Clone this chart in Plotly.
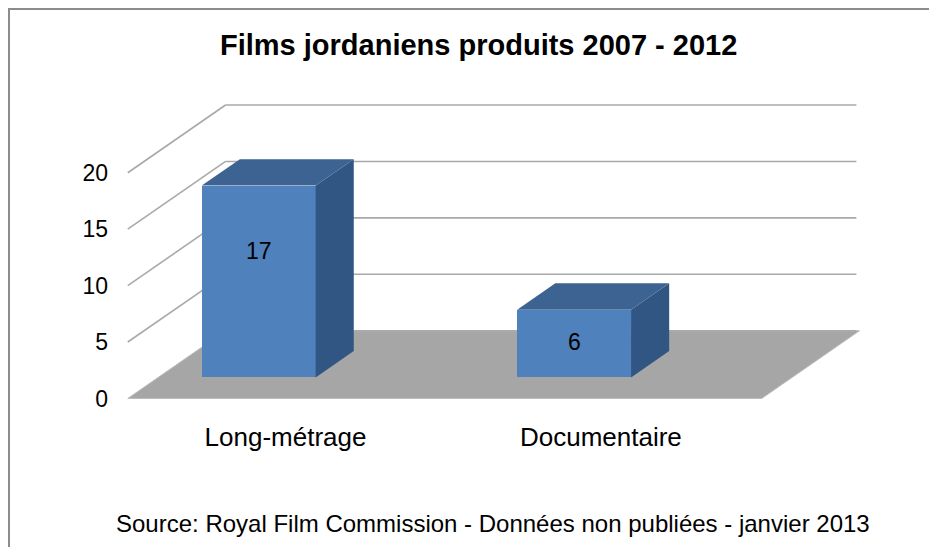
import plotly.graph_objects as go

# ---- data ----
categories = ["Long-métrage", "Documentaire"]
values = [17, 6]
y_ticks = [0, 5, 10, 15, 20]
title_text = "<b>Films jordaniens produits 2007 - 2012</b>"
source_text = "Source: Royal Film Commission - Données non publiées - janvier 2013"

# ---- figure geometry / style ----
OFF = 8                      # page body margin of the html page
W, H = 937 - OFF, 547 - OFF
ML, MT = 112 - OFF, 96 - OFF
PW, PH = 757, 316
MR, MB = W - ML - PW, H - MT - PH
XR = [-0.05, 2.35]
YR = [-1.2, 26.8]
DX, DY = 0.31, 6.0          # full floor depth (x in category units, y in value units)
FLOOR_W = 2.01              # floor width in category units
BAR_C = 0.319               # bar centre offset (depth 0) inside a category
BAR_W = 0.361
FB, BD = 0.31, 0.39         # bar front depth fraction, bar depth fraction
FRONT = "#4F81BD"
TOP = "#3C6391"
SIDE = "#325683"
FLOOR = "#A6A6A6"
GRID = "#A9A9A9"
FONT = "Liberation Sans, Arial, sans-serif"


def px_to_paper_x(px):
    return (px - OFF - ML) / PW


def px_to_paper_y(py):
    return (H - MB - (py - OFF)) / PH


fig = go.Figure()
shapes = []

# floor
shapes.append(dict(
    type="path", layer="below", line=dict(color="#BDBDBD", width=1), fillcolor=FLOOR,
    xref="x", yref="y",
    path=f"M 0,0 L {FLOOR_W},0 L {FLOOR_W + DX},{DY} L {DX},{DY} Z"))

# gridlines (side wall diagonals + back wall horizontals)
for t in y_ticks:
    if t > 0:
        shapes.append(dict(type="line", layer="below", xref="x", yref="y",
                           x0=0, y0=t, x1=DX, y1=t + DY,
                           line=dict(color=GRID, width=1.6)))
    shapes.append(dict(type="line", layer="below", xref="x", yref="y",
                       x0=DX, y0=t + DY, x1=FLOOR_W + DX - 0.01, y1=t + DY,
                       line=dict(color=GRID, width=1.6)))

# bars: front faces via go.Bar
xs_front = [i + BAR_C + FB * DX for i in range(len(values))]
base = FB * DY
fig.add_trace(go.Bar(
    x=xs_front, y=values, base=[base] * len(values), width=BAR_W,
    marker=dict(color=FRONT, line=dict(width=0)),
    hoverinfo="skip", showlegend=False))

bdx, bdy = BD * DX, BD * DY
for xc, v in zip(xs_front, values):
    xl, xr = xc - BAR_W / 2, xc + BAR_W / 2
    yb, yt = base, base + v
    # side face
    fig.add_trace(go.Scatter(
        x=[xr, xr, xr + bdx, xr + bdx, xr], y=[yb, yt, yt + bdy, yb + bdy, yb],
        fill="toself", fillcolor=SIDE, mode="lines", line=dict(width=0, color=SIDE),
        hoverinfo="skip", showlegend=False))
    # top face
    fig.add_trace(go.Scatter(
        x=[xl, xr, xr + bdx, xl + bdx, xl], y=[yt, yt, yt + bdy, yt + bdy, yt],
        fill="toself", fillcolor=TOP, mode="lines", line=dict(width=0, color=TOP),
        hoverinfo="skip", showlegend=False))

# data labels
annotations = []
for xc, v in zip(xs_front, values):
    annotations.append(dict(
        x=xc, y=0.73 * v + 0.65, xref="x", yref="y", text=str(v), showarrow=False,
        font=dict(family=FONT, size=23, color="black")))

# title and source
annotations.append(dict(
    x=px_to_paper_x(478), y=px_to_paper_y(45), xref="paper", yref="paper",
    text=title_text, showarrow=False, xanchor="center", yanchor="middle",
    font=dict(family=FONT, size=29, color="black")))
annotations.append(dict(
    x=px_to_paper_x(493), y=px_to_paper_y(523), xref="paper", yref="paper",
    text=source_text, showarrow=False, xanchor="center", yanchor="middle",
    font=dict(family=FONT, size=24, color="black")))

# outer chart border
shapes.append(dict(type="rect", xref="paper", yref="paper",
                   x0=px_to_paper_x(OFF + 1), x1=px_to_paper_x(980),
                   y0=px_to_paper_y(600), y1=px_to_paper_y(OFF + 1),
                   line=dict(color="#8C8C8C", width=2), fillcolor="rgba(0,0,0,0)"))

fig.update_layout(
    width=W, height=H,
    margin=dict(l=ML, r=MR, t=MT, b=MB, autoexpand=False),
    paper_bgcolor="white", plot_bgcolor="white",
    shapes=shapes, annotations=annotations,
    bargap=0,
    xaxis=dict(range=XR, tickvals=[i + 0.5 for i in range(len(categories))],
               ticktext=categories, showgrid=False, zeroline=False, showline=False,
               ticks="", ticklabelstandoff=7,
               tickfont=dict(family=FONT, size=26, color="black"), fixedrange=True),
    yaxis=dict(range=YR, tickvals=y_ticks, showgrid=False, zeroline=False,
               showline=False, ticks="", ticklabelstandoff=3,
               tickfont=dict(family=FONT, size=23, color="black"), fixedrange=True),
)

fig.write_html("out.html")
